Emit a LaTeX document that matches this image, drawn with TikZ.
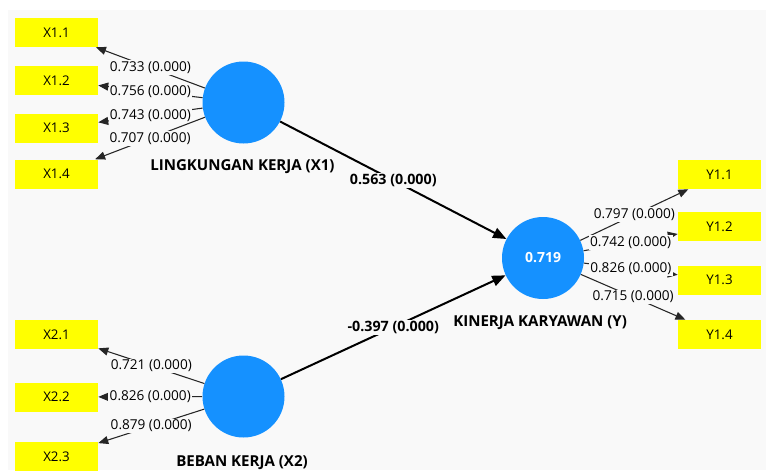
\documentclass[tikz,border=0pt]{standalone}
\usepackage{fontspec}
\setmainfont{Open Sans}
\usetikzlibrary{arrows.meta}
\definecolor{bg}{HTML}{F9F9F9}
\definecolor{ind}{HTML}{FFFF00}
\definecolor{lat}{HTML}{1591FF}
\tikzset{
  indbox/.style={fill=ind, minimum width=62.25pt, minimum height=21.75pt, inner sep=0pt, font=\fontsize{10}{11}\selectfont},
  latent/.style={circle, fill=lat, minimum size=61.5pt, inner sep=0pt, text=white, font=\fontsize{10.5}{12}\selectfont\bfseries},
  latlabel/.style={font=\fontsize{11.3}{13}\selectfont\bfseries, anchor=west, inner sep=0pt},
  outer/.style={draw=black!85, line width=0.8pt, -{Triangle[length=7.5pt, width=6pt]}},
  inner/.style={draw=black, line width=1.5pt, -{Triangle[length=10pt, width=8pt]}},
  olab/.style={fill=bg, inner sep=1pt, font=\fontsize{10.2}{11}\selectfont, pos=0.5},
  ilab/.style={fill=bg, inner sep=1pt, font=\fontsize{10.7}{12}\selectfont\bfseries, pos=0.5}
}
\begin{document}
\begin{tikzpicture}[x=0.75pt, y=-0.75pt]
\useasboundingbox (0,0) rectangle (766,475);
\fill[white] (0,0) rectangle (766,475);
\fill[bg] (8,10) rectangle (766,470);

% indicator boxes
\node[indbox] (x11) at (56.5,32.5) {X1.1};
\node[indbox] (x12) at (56.5,80.5) {X1.2};
\node[indbox] (x13) at (56.5,128) {X1.3};
\node[indbox] (x14) at (56.5,174) {X1.4};
\node[indbox] (x21) at (56.5,334.5) {X2.1};
\node[indbox] (x22) at (56.5,397) {X2.2};
\node[indbox] (x23) at (56.5,456.5) {X2.3};
\node[indbox] (y11) at (719.5,174.5) {Y1.1};
\node[indbox] (y12) at (719.5,226.5) {Y1.2};
\node[indbox] (y13) at (719.5,280) {Y1.3};
\node[indbox] (y14) at (719.5,334.5) {Y1.4};

% latent variables
\node[latent] (X1) at (243.5,102.5) {};
\node[latent] (X2) at (243.5,396.5) {};
\node[latent] (Y) at (543,258) {0.719};

\node[latlabel] (lX1) at (150,167) {LINGKUNGAN KERJA (X1)};
\node[latlabel] (lX2) at (176,463) {BEBAN KERJA (X2)};
\node[latlabel] (lY) at (453,323) {KINERJA KARYAWAN (Y)};

% outer loadings
\draw[outer] (X1) -- (x11) node[olab] {0.733 (0.000)};
\draw[outer] (X1) -- (x12) node[olab] {0.756 (0.000)};
\draw[outer] (X1) -- (x13) node[olab] {0.743 (0.000)};
\draw[outer] (X1) -- (x14) node[olab] {0.707 (0.000)};
\draw[outer] (X2) -- (x21) node[olab] {0.721 (0.000)};
\draw[outer] (X2) -- (x22) node[olab] {0.826 (0.000)};
\draw[outer] (X2) -- (x23) node[olab] {0.879 (0.000)};
\draw[outer] (Y) -- (y11) node[olab] {0.797 (0.000)};
\draw[outer] (Y) -- (y12) node[olab] {0.742 (0.000)};
\draw[outer] (Y) -- (y13) node[olab] {0.826 (0.000)};
\draw[outer] (Y) -- (y14) node[olab] {0.715 (0.000)};

% structural paths
\draw[inner] (X1) -- (Y) node[ilab] {0.563 (0.000)};
\draw[inner] (X2) -- (Y) node[ilab] {-0.397 (0.000)};
\end{tikzpicture}
\end{document}
